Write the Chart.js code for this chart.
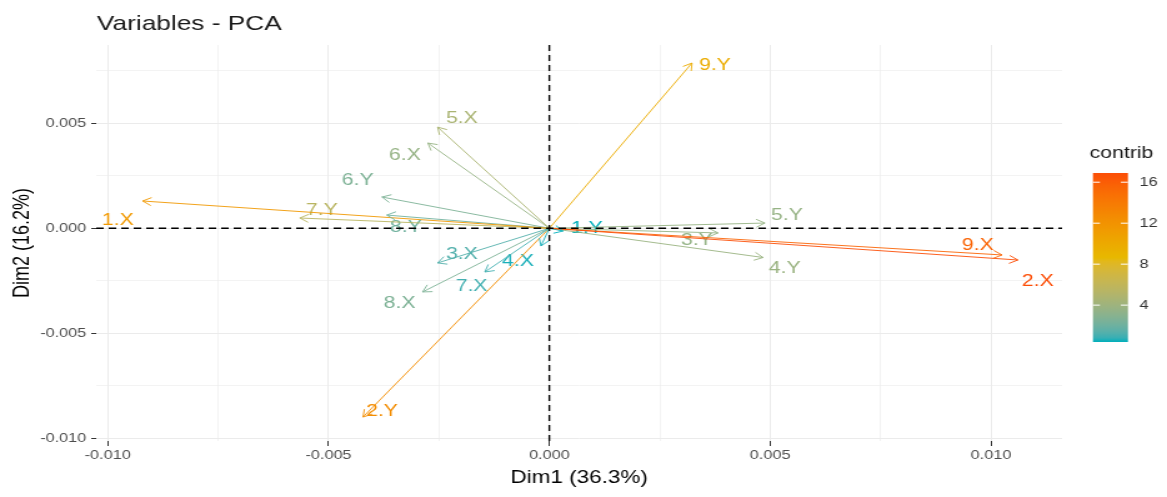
<!DOCTYPE html>
<html><head><meta charset="utf-8">
<script src="https://cdn.jsdelivr.net/npm/chart.js@4.4.1/dist/chart.umd.min.js"></script>
<style>
html,body{margin:0;padding:0;background:#fff;overflow:hidden;}
#wrap{width:934px;height:497px;transform:scaleX(1.2495);transform-origin:0 0;}
canvas{display:block;}
</style></head>
<body><div id="wrap"><canvas id="c" width="934" height="497"></canvas></div>
<script>
// ---- data ----
const varNames = ['1.X','2.X','3.X','4.X','5.X','6.X','7.X','8.X','9.X','1.Y','2.Y','3.Y','4.Y','5.Y','6.Y','7.Y','8.Y','9.Y'];
const dim1 = [-0.00921, 0.01061, -0.00253, -0.00019, -0.00253, -0.00275, -0.00146, -0.00287, 0.01025,
               0.00031, -0.00422, 0.00382, 0.00484, 0.00488, -0.00379, -0.00565, -0.00368, 0.00323];
const dim2 = [0.00130, -0.00151, -0.00165, -0.00084, 0.00482, 0.00406, -0.00208, -0.00303, -0.00127,
              -0.00013, -0.00899, -0.00022, -0.00139, 0.00025, 0.00149, 0.00049, 0.00063, 0.00787];
const contrib = [11.5, 16.9, 1.3, 0.5, 4.6, 3.6, 1.0, 2.6, 15.6,
                 0.4, 12.5, 3.5, 3.8, 3.6, 2.6, 5.5, 2.1, 9.8];
const labelDim1 = [-0.00977, 0.01106, -0.00198, -0.00071, -0.00198, -0.00327, -0.00176, -0.00339, 0.00970,
                   0.00085, -0.00379, 0.00334, 0.00533, 0.00538, -0.00434, -0.00515, -0.00325, 0.00375];
const labelDim2 = [0.00040, -0.00254, -0.00122, -0.00159, 0.00525, 0.00349, -0.00275, -0.00356, -0.00080,
                   0.00001, -0.00870, -0.00056, -0.00189, 0.00063, 0.00230, 0.00087, 0.00006, 0.00778];
const xTickValues = [-0.01, -0.005, 0, 0.005, 0.01];
const xTickLabels = ['-0.010', '-0.005', '0.000', '0.005', '0.010'];
const xMinorValues = [-0.0075, -0.0025, 0.0025, 0.0075];
const yTickValues = [-0.01, -0.005, 0, 0.005];
const yTickLabels = ['-0.010', '-0.005', '0.000', '0.005'];
const yMinorValues = [-0.0075, -0.0025, 0.0025, 0.0075];
const legendTickValues = [4, 8, 12, 16];
const legendTickLabels = ['4', '8', '12', '16'];
const gradientColors = ['#00AFBB', '#E7B800', '#FC4E07'];
const chartTitle = 'Variables - PCA';
const xTitle = 'Dim1 (36.3%)';
const yTitle = 'Dim2 (16.2%)';
const legendTitle = 'contrib';

// ---- helpers ----
const FONT = "'Liberation Sans', Arial, sans-serif";
const cMin = Math.min(...contrib), cMax = Math.max(...contrib);
function hexRgb(h){return [parseInt(h.slice(1,3),16),parseInt(h.slice(3,5),16),parseInt(h.slice(5,7),16)];}
// Lab interpolation (as ggplot / farver does)
function toLin(c){c/=255;return c<=0.04045?c/12.92:Math.pow((c+0.055)/1.055,2.4);}
function fromLin(c){const v=c<=0.0031308?12.92*c:1.055*Math.pow(c,1/2.4)-0.055;return Math.max(0,Math.min(255,Math.round(v*255)));}
const WX=0.95047, WY=1.0, WZ=1.08883;
function rgbToLab(rgb){
  const [r,g,b]=rgb.map(toLin);
  const X=(r*0.4124+g*0.3576+b*0.1805)/WX, Y=(r*0.2126+g*0.7152+b*0.0722)/WY, Z=(r*0.0193+g*0.1192+b*0.9505)/WZ;
  const f=t=>t>0.008856?Math.cbrt(t):(7.787*t+16/116);
  const fx=f(X),fy=f(Y),fz=f(Z);
  return [116*fy-16, 500*(fx-fy), 200*(fy-fz)];
}
function labToRgb(lab){
  const fy=(lab[0]+16)/116, fx=fy+lab[1]/500, fz=fy-lab[2]/200;
  const fi=t=>{const t3=t*t*t;return t3>0.008856?t3:(t-16/116)/7.787;};
  const X=fi(fx)*WX, Y=fi(fy)*WY, Z=fi(fz)*WZ;
  const r=X*3.2406+Y*-1.5372+Z*-0.4986, g=X*-0.9689+Y*1.8758+Z*0.0415, b=X*0.0557+Y*-0.2040+Z*1.0570;
  return [fromLin(r),fromLin(g),fromLin(b)];
}
const stopLabs = gradientColors.map(h => rgbToLab(hexRgb(h)));
function colorAt(t){
  t = Math.max(0, Math.min(1, t));
  const n = stopLabs.length - 1; const seg = Math.min(n - 1, Math.floor(t * n)); const f = t * n - seg;
  const a = stopLabs[seg], b = stopLabs[seg + 1];
  const c = labToRgb(a.map((x, k) => x + (b[k] - x) * f));
  return `rgb(${c[0]},${c[1]},${c[2]})`;
}
const colorFor = v => colorAt((v - cMin) / (cMax - cMin));
const near = (a, b) => Math.abs(a - b) < 1e-9;
const isMajorX = v => xTickValues.some(t => near(t, v));
const isMajorY = v => yTickValues.some(t => near(t, v));

const datasets = varNames.map((n, i) => ({
  label: n,
  data: [{x: 0, y: 0}, {x: dim1[i], y: dim2[i]}],
  showLine: true,
  borderColor: colorFor(contrib[i]),
  borderWidth: 0.9,
  pointRadius: 0,
  fill: false
}));

const pcaPlugin = {
  id: 'pca',
  beforeDatasetsDraw(chart) {
    const {ctx, scales: {x, y}} = chart;
    ctx.save();
    ctx.font = `17px ${FONT}`;
    ctx.textAlign = 'center'; ctx.textBaseline = 'middle';
    varNames.forEach((n, i) => {
      ctx.fillStyle = colorFor(contrib[i]);
      ctx.fillText(n, x.getPixelForValue(labelDim1[i]), y.getPixelForValue(labelDim2[i]));
    });
    ctx.restore();
  },
  afterDatasetsDraw(chart) {
    const {ctx, chartArea: ca, scales: {x, y}} = chart;
    const x0 = x.getPixelForValue(0), y0 = y.getPixelForValue(0);
    ctx.save();
    ctx.lineWidth = 0.9;
    varNames.forEach((n, i) => {
      const x1 = x.getPixelForValue(dim1[i]), y1 = y.getPixelForValue(dim2[i]);
      const ang = Math.atan2(y1 - y0, x1 - x0), len = 8, sp = Math.PI / 6;
      ctx.strokeStyle = colorFor(contrib[i]);
      ctx.beginPath();
      ctx.moveTo(x1 - len * Math.cos(ang - sp), y1 - len * Math.sin(ang - sp));
      ctx.lineTo(x1, y1);
      ctx.lineTo(x1 - len * Math.cos(ang + sp), y1 - len * Math.sin(ang + sp));
      ctx.stroke();
    });
    ctx.strokeStyle = '#000'; ctx.lineWidth = 1.4; ctx.setLineDash([6, 4]);
    ctx.beginPath(); ctx.moveTo(ca.left, y0); ctx.lineTo(ca.right, y0); ctx.stroke();
    ctx.beginPath(); ctx.moveTo(x0, ca.top); ctx.lineTo(x0, ca.bottom); ctx.stroke();
    ctx.restore();
  },
  afterDraw(chart) {
    const {ctx} = chart;
    ctx.save();
    ctx.fillStyle = '#1a1a1a'; ctx.font = `21px ${FONT}`;
    ctx.textAlign = 'left'; ctx.textBaseline = 'alphabetic';
    ctx.fillText(chartTitle, 77.6, 30);
    const bx = 874.7, bw = 28, top = 173, bot = 342;
    ctx.font = `17px ${FONT}`; ctx.textBaseline = 'middle'; ctx.fillStyle = '#1a1a1a';
    ctx.fillText(legendTitle, 872, 153);
    const g = ctx.createLinearGradient(0, bot, 0, top);
    for (let k = 0; k <= 40; k++) g.addColorStop(k / 40, colorAt(k / 40));
    ctx.fillStyle = g; ctx.fillRect(bx, top, bw, bot - top);
    ctx.font = `13px ${FONT}`;
    legendTickValues.forEach((v, k) => {
      const py = bot - (v - cMin) / (cMax - cMin) * (bot - top);
      ctx.strokeStyle = '#fff'; ctx.lineWidth = 1;
      ctx.beginPath(); ctx.moveTo(bx, py); ctx.lineTo(bx + bw / 5, py);
      ctx.moveTo(bx + bw - bw / 5, py); ctx.lineTo(bx + bw, py); ctx.stroke();
      ctx.fillStyle = '#333';
      ctx.fillText(legendTickLabels[k], 912, py);
    });
    ctx.restore();
  }
};

new Chart(document.getElementById('c'), {
  type: 'scatter',
  data: {datasets},
  plugins: [pcaPlugin],
  options: {
    responsive: false,
    animation: false,
    events: [],
    layout: {padding: {top: 45, right: 84, left: 0, bottom: 0}},
    plugins: {legend: {display: false}, tooltip: {enabled: false}, title: {display: false}},
    scales: {
      x: {
        type: 'linear', min: -0.01026, max: 0.01161,
        afterBuildTicks: s => { s.ticks = [...xTickValues, ...xMinorValues].sort((a, b) => a - b).map(v => ({value: v})); },
        afterFit: s => { s.height = 56; },
        ticks: {
          autoSkip: false, maxRotation: 0, padding: 2, color: '#4D4D4D',
          font: {family: FONT, size: 13},
          callback: v => { const k = xTickValues.findIndex(t => near(t, v)); return k >= 0 ? xTickLabels[k] : ''; }
        },
        grid: {
          color: '#EBEBEB',
          lineWidth: c => isMajorX(c.tick.value) ? 1 : 0.6,
          tickColor: c => isMajorX(c.tick.value) ? '#333' : 'rgba(0,0,0,0)',
          tickLength: 5, drawTicks: true
        },
        border: {display: false},
        title: {display: true, text: xTitle, color: '#000', font: {family: FONT, size: 18}, padding: {top: 0, bottom: 8}}
      },
      y: {
        type: 'linear', min: -0.01013, max: 0.00873,
        afterBuildTicks: s => { s.ticks = [...yTickValues, ...yMinorValues].sort((a, b) => a - b).map(v => ({value: v})); },
        afterFit: s => { s.width = 77; },
        ticks: {
          autoSkip: false, padding: 4, color: '#4D4D4D',
          font: {family: FONT, size: 13},
          callback: v => { const k = yTickValues.findIndex(t => near(t, v)); return k >= 0 ? yTickLabels[k] : ''; }
        },
        grid: {
          color: '#EBEBEB',
          lineWidth: c => isMajorY(c.tick.value) ? 1 : 0.6,
          tickColor: c => isMajorY(c.tick.value) ? '#333' : 'rgba(0,0,0,0)',
          tickLength: 4, drawTicks: true
        },
        border: {display: false},
        title: {display: true, text: yTitle, color: '#000', font: {family: FONT, size: 18}, padding: {top: 7, bottom: 0}}
      }
    }
  }
});
</script></body></html>
